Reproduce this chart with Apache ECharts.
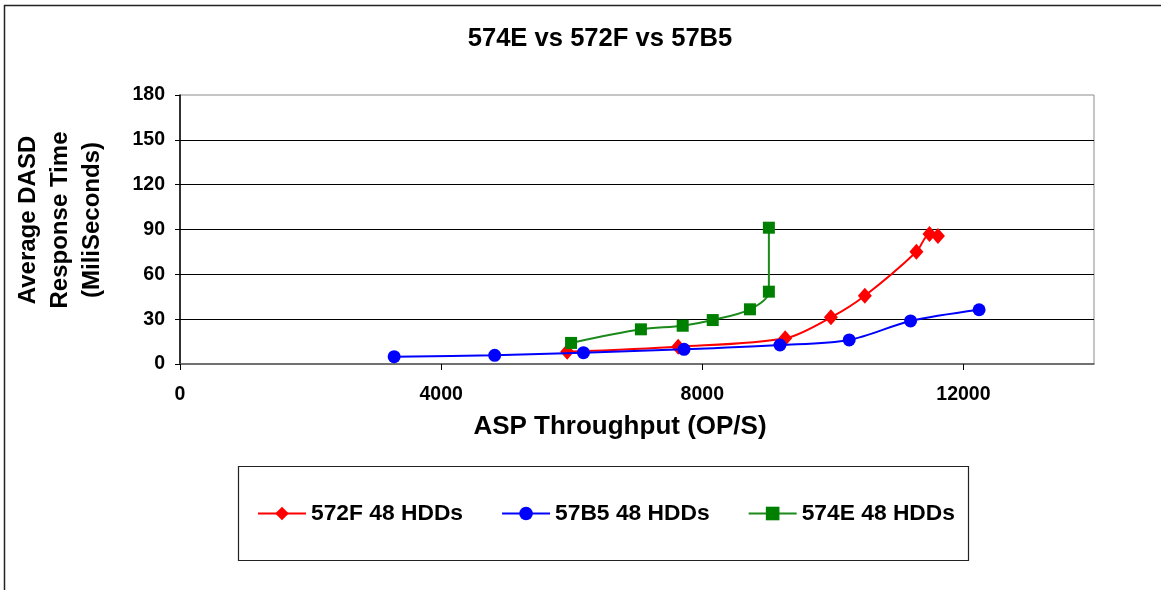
<!DOCTYPE html>
<html>
<head>
<meta charset="utf-8">
<script src="https://cdn.jsdelivr.net/npm/echarts@6/dist/echarts.min.js"></script>
<style>
html,body{margin:0;padding:0;background:#fff;}
#chart{width:1161px;height:590px;}
</style>
</head>
<body>
<div id="chart"></div>
<script>
// ---- data ----
const titleText = '574E vs 572F vs 57B5';
const xAxisTitle = 'ASP Throughput (OP/S)';
const yAxisTitle = ['Average DASD', 'Response Time', '(MiliSeconds)'];
const xTicks = [0, 4000, 8000, 12000];
const yTicks = [0, 30, 60, 90, 120, 150, 180];

const seriesNames = ['572F 48 HDDs', '57B5 48 HDDs', '574E 48 HDDs'];

const f572X = [5930, 7630, 9270, 9970, 10490, 11280, 11480, 11610];
const f572Y = [8.2, 11.6, 17.2, 31.2, 45.7, 75.1, 87.0, 85.6];

const b57X = [3280, 4820, 6180, 7720, 9190, 10250, 11190, 12240];
const b57Y = [4.9, 5.8, 7.6, 9.8, 12.7, 16.1, 28.8, 36.3];

const e574X = [5990, 7060, 7700, 8160, 8730, 9020, 9020];
const e574Y = [14.1, 23.2, 25.6, 29.4, 36.6, 48.4, 91.2];

const pair = (xs, ys) => xs.map((x, i) => [x, ys[i]]);

const FONT = '"Liberation Sans", Arial, Helvetica, sans-serif';

const chart = echarts.init(document.getElementById('chart'), null, {renderer: 'canvas'});

const option = {
  backgroundColor: '#fff',
  animation: false,
  title: {
    text: titleText,
    left: 595,
    top: 21,
    textAlign: 'center',
    textStyle: {fontFamily: FONT, fontSize: 25.6, fontWeight: 'bold', color: '#000'}
  },
  grid: {
    left: 180, right: 67, top: 95, bottom: 226,
    show: true, borderColor: '#8c8c8c', borderWidth: 1, backgroundColor: 'transparent'
  },
  legend: {
    data: seriesNames,
    left: 257,
    top: 502,
    padding: 0,
    itemWidth: 48,
    itemHeight: 17,
    itemGap: 38,
    textStyle: {fontFamily: FONT, fontSize: 22.8, fontWeight: 'bold', color: '#000'}
  },
  xAxis: {
    type: 'value',
    min: 0, max: 14000, interval: 4000,
    axisLine: {show: true, onZero: false, lineStyle: {color: '#555', width: 1.5}},
    axisTick: {show: true, inside: false, length: 6, customValues: xTicks, lineStyle: {color: '#000'}},
    axisLabel: {customValues: xTicks, margin: 21, fontFamily: FONT, fontSize: 19.5, fontWeight: 'bold', color: '#000',
                formatter: v => String(v)},
    splitLine: {show: false}
  },
  yAxis: {
    type: 'value',
    min: 0, max: 180, interval: 30,
    axisLine: {show: true, lineStyle: {color: '#000', width: 1.5}},
    axisTick: {show: true, inside: false, length: 5, lineStyle: {color: '#000'}},
    axisLabel: {margin: 15, fontFamily: FONT, fontSize: 19.5, fontWeight: 'bold', color: '#000',
                formatter: v => String(v)},
    splitLine: {show: true, showMinLine: false, showMaxLine: false, lineStyle: {color: '#000', width: 1}}
  },
  graphic: [
    {type: 'rect', silent: true, z: -1, shape: {x: 4.5, y: 5.5, width: 1200, height: 700},
     style: {fill: 'none', stroke: '#222', lineWidth: 1.5}},
    {type: 'rect', silent: true, z: -1, shape: {x: 238.5, y: 466.5, width: 730, height: 94},
     style: {fill: 'none', stroke: '#222', lineWidth: 1.2}},
    {type: 'text', silent: true, x: 60, y: 220, rotation: Math.PI / 2,
     style: {text: yAxisTitle.join('\n'), fontFamily: FONT, fontSize: 24, fontWeight: 'bold',
             fill: '#000', align: 'center', verticalAlign: 'middle', lineHeight: 32}},
    {type: 'text', silent: true, x: 620, y: 427,
     style: {text: xAxisTitle, fontFamily: FONT, fontSize: 26, fontWeight: 'bold',
             fill: '#000', align: 'center', verticalAlign: 'middle'}}
  ],
  series: [
    {name: seriesNames[0], type: 'line', data: pair(f572X, f572Y), smooth: 0.3,
     symbol: 'diamond', symbolSize: [14, 16], color: '#ff0000',
     lineStyle: {color: '#ff0000', width: 2}, itemStyle: {color: '#ff0000'}, z: 3},
    {name: seriesNames[1], type: 'line', data: pair(b57X, b57Y), smooth: 0.3,
     symbol: 'circle', symbolSize: 13, color: '#0000ff',
     lineStyle: {color: '#0000ff', width: 2}, itemStyle: {color: '#0000ff'}, z: 4},
    {name: seriesNames[2], type: 'line', data: pair(e574X, e574Y), smooth: 0.3,
     symbol: 'rect', symbolSize: 12, color: '#008000',
     lineStyle: {color: '#1a8a1a', width: 2}, itemStyle: {color: '#008000'}, z: 5}
  ]
};

chart.setOption(option);
</script>
</body>
</html>
